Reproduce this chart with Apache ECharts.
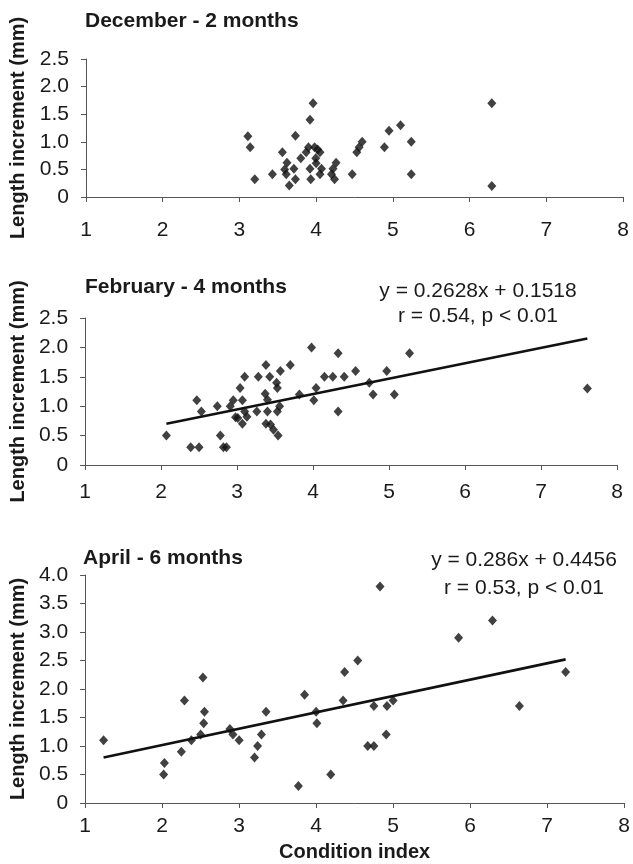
<!DOCTYPE html>
<html>
<head>
<meta charset="utf-8">
<script src="https://cdn.jsdelivr.net/npm/echarts@6/dist/echarts.min.js"></script>
<style>
html,body{margin:0;padding:0;background:#fff;}
#c{width:633px;height:864px;}
</style>
</head>
<body>
<div id="c"></div>
<script>
// ---- Data ----
const titles = ["December - 2 months", "February - 4 months", "April - 6 months"];
const xTicks = [1, 2, 3, 4, 5, 6, 7, 8];
const yTicks12 = [0, 0.5, 1.0, 1.5, 2.0, 2.5];
const yTicks3 = [0, 0.5, 1.0, 1.5, 2.0, 2.5, 3.0, 3.5, 4.0];

const december = [
  [3.11,1.1],[3.14,0.9],[3.20,0.32],[3.43,0.41],[3.56,0.81],[3.62,0.62],[3.59,0.5],
  [3.61,0.41],[3.65,0.21],[3.71,0.51],[3.73,1.11],[3.73,0.32],[3.80,0.7],[3.87,0.81],
  [3.90,0.9],[3.92,1.4],[3.96,1.7],[3.92,0.51],[3.93,0.32],[3.995,0.7],[3.98,0.9],
  [4.02,0.86],[4.05,0.81],[4.0,0.61],[4.07,0.51],[4.05,0.41],[4.20,0.41],[4.22,0.51],
  [4.24,0.32],[4.26,0.62],[4.47,0.41],[4.53,0.81],[4.56,0.9],[4.60,1.0],[4.89,0.9],
  [4.95,1.2],[5.10,1.3],[5.24,1.0],[5.24,0.41],[6.29,1.7],[6.29,0.2]
];
const february = [
  [2.07,0.5],[2.39,0.3],[2.50,0.3],[2.47,1.1],[2.53,0.91],[2.74,1.0],[2.78,0.5],
  [2.82,0.3],[2.86,0.3],[2.91,1.0],[2.95,1.1],[2.98,0.81],[3.01,0.8],[3.04,1.31],
  [3.07,1.1],[3.10,1.5],[3.10,0.91],[3.13,0.82],[3.07,0.7],[3.26,0.91],[3.28,1.5],
  [3.38,1.7],[3.37,1.21],[3.40,1.11],[3.43,1.5],[3.40,0.91],[3.38,0.7],[3.44,0.69],
  [3.48,0.6],[3.54,0.5],[3.52,1.4],[3.53,1.31],[3.53,0.91],[3.56,1.0],[3.57,1.6],
  [3.70,1.7],[3.82,1.2],[3.98,2.0],[4.01,1.1],[4.04,1.31],[4.15,1.5],[4.26,1.5],
  [4.33,1.9],[4.33,0.91],[4.41,1.5],[4.56,1.6],[4.74,1.4],[4.79,1.2],[4.97,1.6],
  [5.07,1.2],[5.27,1.9],[7.61,1.3]
];
const april = [
  [1.24,1.1],[2.02,0.5],[2.03,0.7],[2.25,0.9],[2.29,1.8],[2.38,1.1],[2.50,1.2],
  [2.53,2.2],[2.54,1.4],[2.55,1.6],[2.88,1.3],[2.92,1.2],[3.0,1.1],[3.20,0.8],
  [3.24,1.0],[3.29,1.2],[3.35,1.6],[3.77,0.3],[3.85,1.9],[4.00,1.6],[4.01,1.4],
  [4.19,0.5],[4.35,1.8],[4.37,2.3],[4.54,2.5],[4.67,1.0],[4.75,1.0],[4.75,1.7],
  [4.83,3.8],[4.91,1.2],[4.92,1.7],[5.0,1.8],[5.85,2.9],[6.29,3.2],[6.64,1.7],
  [7.24,2.3]
];
const trendFeb = [[2.07,0.70],[7.61,2.15]];
const trendApr = [[1.24,0.80],[7.24,2.52]];
const eqFeb = ["y = 0.2628x + 0.1518", "r = 0.54, p < 0.01"];
const eqApr = ["y = 0.286x + 0.4456", "r = 0.53, p < 0.01"];
const yName = "Length increment (mm)";
const xName = "Condition index";

// ---- Chart ----
const FONT = "'Liberation Sans', Arial, sans-serif";
const INK = "#1a1a1a";
const AXIS = "#555";
const grids = [
  {left: 86, right: 10, top: 59, height: 138},
  {left: 85, right: 16, top: 318, height: 147},
  {left: 85, right: 7, top: 575, height: 228}
];
const xLabelMargins = [23, 17, 13];
function yFmt(v){ return v === 0 ? "0" : v.toFixed(1); }
function xAxis(i, withName){
  const ax = {
    gridIndex: i, type: 'value', min: xTicks[0], max: xTicks[xTicks.length-1], interval: 1,
    axisLine: {onZero:false, lineStyle: {color: AXIS, width: 1}},
    axisTick: {show: true, inside: false, length: 5, lineStyle: {color: AXIS}},
    splitLine: {show: false},
    axisLabel: {color: INK, fontFamily: FONT, fontSize: 21, margin: xLabelMargins[i]}
  };
  if (withName){
    Object.assign(ax, {name: xName, nameLocation: 'middle', nameGap: 39,
      nameTextStyle: {color: INK, fontFamily: FONT, fontSize: 20, fontWeight: 'bold'}});
  }
  return ax;
}
function yAxis(i, ticks){
  return {
    gridIndex: i, type: 'value', min: ticks[0], max: ticks[ticks.length-1], interval: 0.5,
    name: yName, nameLocation: 'middle', nameGap: 57,
    nameTextStyle: {color: INK, fontFamily: FONT, fontSize: 20, fontWeight: 'bold'},
    axisLine: {show: true, lineStyle: {color: AXIS, width: 1}},
    axisTick: {show: true, inside: false, length: 5, lineStyle: {color: AXIS}},
    splitLine: {show: false},
    axisLabel: {color: INK, fontFamily: FONT, fontSize: 21, margin: 17, formatter: yFmt}
  };
}
function scatter(i, data){
  return {type: 'scatter', xAxisIndex: i, yAxisIndex: i, data: data,
    symbol: 'diamond', symbolSize: [9, 10], itemStyle: {color: '#111'}, z: 3};
}
function trend(i, data){
  return {type: 'line', xAxisIndex: i, yAxisIndex: i, data: data, symbol: 'none',
    lineStyle: {color: '#111', width: 2.6}, z: 2};
}
const titleStyle = {color: INK, fontFamily: FONT, fontSize: 21, fontWeight: 'bold'};
function eqStyle(lh){ return {color: INK, fontFamily: FONT, fontSize: 21, fontWeight: 'normal', lineHeight: lh, align: 'center'}; }

const chart = echarts.init(document.getElementById('c'), null, {renderer: 'canvas'});
chart.setOption({
  animation: false,
  backgroundColor: '#fff',
  title: [
    {text: titles[0], left: 80, top: 6, textStyle: titleStyle},
    {text: titles[1], left: 80, top: 272, textStyle: titleStyle},
    {text: titles[2], left: 78, top: 543, textStyle: titleStyle},
    {text: eqFeb.join("\n"), left: 473, top: 274, textAlign: 'center', textStyle: eqStyle(25)},
    {text: eqApr.join("\n"), left: 519, top: 541, textAlign: 'center', textStyle: eqStyle(28)}
  ],
  grid: grids,
  xAxis: [xAxis(0,false), xAxis(1,false), xAxis(2,true)],
  yAxis: [yAxis(0,yTicks12), yAxis(1,yTicks12), yAxis(2,yTicks3)],
  series: [
    scatter(0, december),
    scatter(1, february), trend(1, trendFeb),
    scatter(2, april), trend(2, trendApr)
  ]
});
</script>
</body>
</html>
